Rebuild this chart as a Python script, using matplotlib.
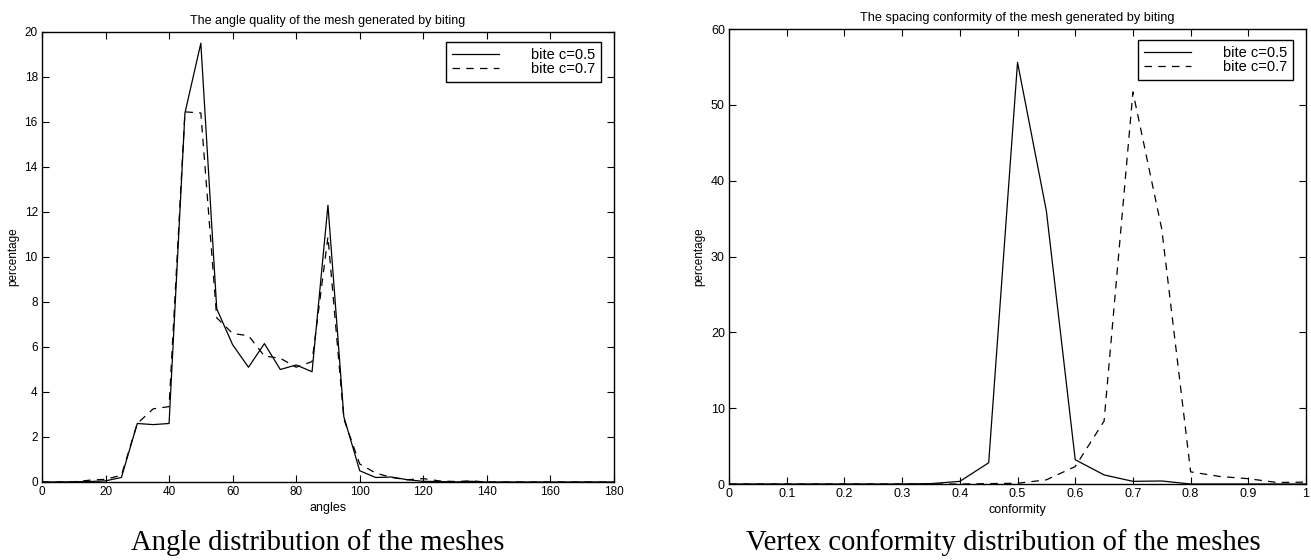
import matplotlib
matplotlib.use("Agg")
import matplotlib.pyplot as plt

plt.rcParams['font.family'] = ['Liberation Sans', 'DejaVu Sans']

# angle distribution (left panel)
angles = [0, 5, 10, 15, 20, 25, 30, 35, 40, 45, 50, 55, 60, 65, 70, 75, 80, 85, 90,
          95, 100, 105, 110, 115, 120, 125, 130, 135, 140, 145, 150, 155, 160, 165,
          170, 175, 180]
angle_c05 = [0, 0, 0.01, 0.02, 0.05, 0.2, 2.6, 2.55, 2.6, 16.4, 19.5, 7.7, 6.1, 5.1,
             6.15, 5.0, 5.2, 4.9, 12.3, 2.9, 0.5, 0.2, 0.22, 0.1, 0.03, 0.02, 0.0,
             0.03, 0, 0, 0, 0, 0, 0, 0, 0, 0]
angle_c07 = [0, 0, 0.01, 0.08, 0.12, 0.3, 2.6, 3.25, 3.35, 16.45, 16.4, 7.3, 6.6, 6.5,
             5.6, 5.5, 5.1, 5.35, 10.9, 2.8, 0.8, 0.4, 0.2, 0.1, 0.15, 0.05, 0.02,
             0.05, 0, 0, 0, 0, 0, 0, 0, 0, 0]

# vertex conformity distribution (right panel)
conf = [0, 0.05, 0.1, 0.15, 0.2, 0.25, 0.3, 0.35, 0.4, 0.45, 0.5, 0.55, 0.6, 0.65,
        0.7, 0.75, 0.8, 0.85, 0.9, 0.95, 1.0]
conf_c05 = [0, 0, 0, 0, 0, 0, 0, 0.05, 0.35, 2.8, 55.6, 36.0, 3.2, 1.2, 0.35, 0.4,
            0.0, 0, 0, 0, 0]
conf_c07 = [0, 0, 0, 0, 0, 0, 0, 0, 0, 0.05, 0.1, 0.55, 2.3, 8.3, 51.7, 33.6, 1.6,
            1.0, 0.7, 0.2, 0.25]

labels = ['bite c=0.5', 'bite c=0.7']

fig = plt.figure(figsize=(13.11, 5.6), dpi=100)
ax1 = fig.add_axes([0.0320, 0.1393, 0.4363, 0.8036])
ax2 = fig.add_axes([0.5561, 0.1357, 0.4401, 0.8125])


def style_axes(ax, fs):
    for s in ax.spines.values():
        s.set_linewidth(1.0)
    ax.tick_params(direction='in', top=True, right=True, length=5, width=0.8,
                   labelsize=fs, pad=3)


# left panel
ax1.plot(angles, angle_c05, 'k-', lw=0.9, label=labels[0])
ax1.plot(angles, angle_c07, 'k--', lw=0.9, dashes=(6, 5), label=labels[1])
ax1.set_xlim(0, 180)
ax1.set_ylim(0, 20)
ax1.set_xticks(range(0, 181, 20))
ax1.set_yticks(range(0, 21, 2))
style_axes(ax1, 8.5)
ax1.set_title('The angle quality of the mesh generated by biting', fontsize=9, pad=6)
ax1.set_xlabel('angles', fontsize=9, labelpad=3)
ax1.set_ylabel('percentage', fontsize=8.5, labelpad=4)
leg1 = ax1.legend(loc='upper right', bbox_to_anchor=(0.977, 0.978), borderaxespad=0,
                  fontsize=10.5, handlelength=3.2, handletextpad=2.2, labelspacing=0,
                  fancybox=False, edgecolor='k', framealpha=1, borderpad=0.4)
leg1.get_frame().set_linewidth(1.0)

# right panel
ax2.plot(conf, conf_c05, 'k-', lw=0.9, label=labels[0])
ax2.plot(conf, conf_c07, 'k--', lw=0.9, dashes=(6, 5), label=labels[1])
ax2.set_xlim(0, 1)
ax2.set_ylim(0, 60)
ax2.set_xticks([0, 0.1, 0.2, 0.3, 0.4, 0.5, 0.6, 0.7, 0.8, 0.9, 1])
ax2.set_xticklabels(['0', '0.1', '0.2', '0.3', '0.4', '0.5', '0.6', '0.7', '0.8',
                     '0.9', '1'])
ax2.set_yticks(range(0, 61, 10))
style_axes(ax2, 9)
ax2.set_title('The spacing conformity of the mesh generated by biting', fontsize=9.2, pad=6)
ax2.set_xlabel('conformity', fontsize=9, labelpad=3)
ax2.set_ylabel('percentage', fontsize=8.5, labelpad=4)
leg2 = ax2.legend(loc='upper right', bbox_to_anchor=(0.977, 0.976), borderaxespad=0,
                  fontsize=10.5, handlelength=3.2, handletextpad=2.2, labelspacing=0,
                  fancybox=False, edgecolor='k', framealpha=1, borderpad=0.4)
leg2.get_frame().set_linewidth(1.0)

# captions under each panel
fig.text(318 / 1311, 1 - 543 / 560, 'Angle distribution of the meshes',
         family='Liberation Serif', fontsize=20.6, ha='center', va='center')
fig.text(1003 / 1311, 1 - 543 / 560, 'Vertex conformity distribution of the meshes',
         family='Liberation Serif', fontsize=20.7, ha='center', va='center')

fig.savefig('out.png', dpi=100)
